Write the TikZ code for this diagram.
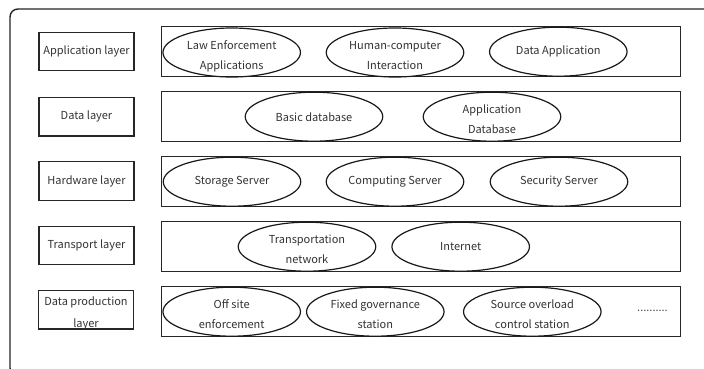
\documentclass[tikz,border=0pt]{standalone}
\usepackage{fontspec}
\setmainfont{Noto Sans CJK SC}
\usetikzlibrary{shapes.geometric}
\newcommand{\twoln}[2]{\raisebox{-6pt}[0pt][0pt]{\begin{tabular}{@{}c@{}}#1\\#2\end{tabular}}}
\begin{document}
\begin{tikzpicture}[x=1pt,y=-1pt,
  lbl/.style={draw=black!85,line width=1.3pt,minimum width=95pt,minimum height=38.5pt,inner sep=0pt,align=center,text=black!80,font={\fontsize{11}{21.5}\selectfont}},
  band/.style={draw=black!85,line width=1.3pt,minimum width=519.5pt,minimum height=50pt,inner sep=0pt},
  ell/.style={ellipse,draw=black!90,line width=1.2pt,minimum width=137.5pt,minimum height=49pt,inner sep=0pt,align=center,text=black!80,font={\fontsize{11}{20}\selectfont}},
  dots/.style={text=black!70,font={\fontsize{11}{20}\selectfont},inner sep=0pt}]
\useasboundingbox (0,0) rectangle (704,369);
\fill[white] (0,0) rectangle (704,369);
\begin{scope}
\clip (0,0) rectangle (704,369);
\draw[black!85,line width=1.4pt,rounded corners=8pt] (10,9) rectangle (740,376);
\end{scope}
% left labels
\node[lbl] (l1) at (86.5,51.5) {Application layer};
\node[lbl] (l2) at (86.5,116.7) {Data layer};
\node[lbl] (l3) at (86.5,181) {Hardware layer};
\node[lbl] (l4) at (86.5,245.5) {Transport layer};
\node[lbl] (l5) at (86,309.8) {\raisebox{-5.25pt}[0pt][0pt]{\begin{tabular}{@{}c@{}}Data production\\layer\end{tabular}}};
% bands
\node[band] (b1) at (421,51.7) {};
\node[band] (b2) at (421,116.7) {};
\node[band] (b3) at (421,181.7) {};
\node[band] (b4) at (421,246.7) {};
\node[band] (b5) at (421,311.7) {};
% row 1
\node[ell] (e11) at (231.7,52.5) {\twoln{Law Enforcement}{Applications}};
\node[ell] (e12) at (395,52.5) {\twoln{Human-computer}{Interaction}};
\node[ell] (e13) at (558.3,51.7) {Data Application};
% row 2
\node[ell] (e21) at (314,116.7) {Basic database};
\node[ell] (e22) at (492,116.7) {\twoln{Application}{Database}};
% row 3
\node[ell] (e31) at (232,181.7) {Storage Server};
\node[ell] (e32) at (395,181.7) {Computing Server};
\node[ell] (e33) at (559,181.7) {Security Server};
% row 4
\node[ell] (e41) at (307,246.7) {\twoln{Transportation}{network}};
\node[ell] (e42) at (460.7,246.7) {Internet};
% row 5
\node[ell] (e51) at (231.7,311.7) {\twoln{Off site}{enforcement}};
\node[ell] (e52) at (375.3,311.7) {\twoln{Fixed governance}{station}};
\node[ell] (e53) at (532.3,311.7) {\twoln{Source overload}{control station}};
\node[dots] (d5) at (652.5,310.5) {..........};
\end{tikzpicture}
\end{document}
